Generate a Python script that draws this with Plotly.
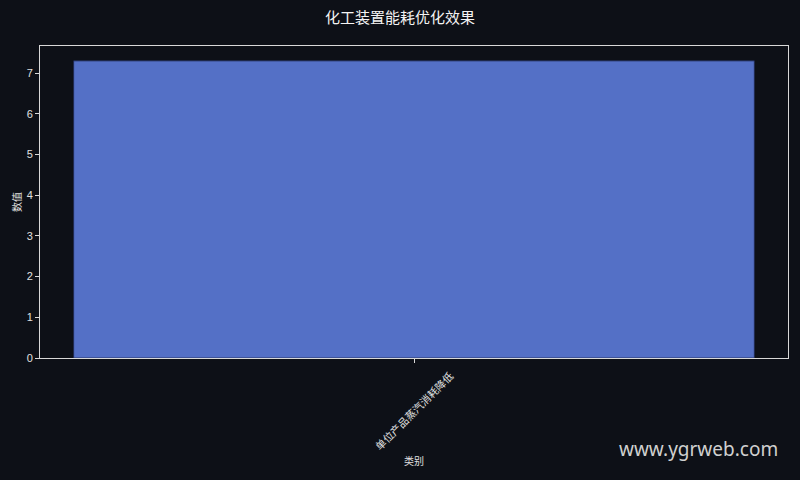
import plotly.graph_objects as go

# data
categories = ["单位产品蒸汽消耗降低"]
values = [7.3]

title_text = "化工装置能耗优化效果"
x_title = "类别"
y_title = "数值"
watermark = "www.ygrweb.com"

bg = "#0d1017"
font_cjk = "Noto Sans CJK SC"
txt = "#e0e0e0"

fig = go.Figure(
    go.Bar(
        x=categories,
        y=values,
        width=0.91,
        marker=dict(color="#5470c6", line=dict(color="rgba(30,40,80,0.8)", width=1)),
    )
)

axis_common = dict(
    showgrid=False,
    zeroline=False,
    showline=True,
    mirror=True,
    linecolor="#d8d8d8",
    linewidth=1,
    ticks="outside",
    ticklen=4,
    tickcolor="#d8d8d8",
    automargin=False,
)

# category labels drawn centred under the tick, rotated like the original
cat_labels = [
    dict(text=c, x=c, xref="x", yref="paper", y=-0.167, textangle=-45,
         xanchor="center", yanchor="middle", showarrow=False,
         font=dict(size=10.5, color=txt, family=font_cjk))
    for c in categories
]

fig.update_layout(
    width=800,
    height=480,
    paper_bgcolor=bg,
    plot_bgcolor=bg,
    margin=dict(l=40, r=12, t=46, b=122),
    title=dict(text=title_text, x=0.5, xanchor="center", y=0.962, yanchor="middle",
               font=dict(size=15, color="#f4f4f4", family=font_cjk)),
    showlegend=False,
    xaxis=dict(axis_common, showticklabels=False),
    yaxis=dict(axis_common, range=[0, max(values) * 1.05], dtick=1,
               tickfont=dict(size=11, color=txt, family="Liberation Sans")),
    annotations=cat_labels + [
        dict(text=x_title, xref="paper", yref="paper", x=0.5, y=-0.33,
             xanchor="center", yanchor="middle", showarrow=False,
             font=dict(size=10, color=txt, family=font_cjk)),
        dict(text=y_title, xref="paper", yref="paper", x=-0.032, y=0.5, textangle=-90,
             xanchor="center", yanchor="middle", showarrow=False,
             font=dict(size=10, color=txt, family=font_cjk)),
        dict(text=watermark, xref="paper", yref="paper", x=0.9893, y=-0.2917,
             xanchor="right", yanchor="middle", showarrow=False,
             font=dict(size=19, color="#d0d0d0", family="Noto Sans")),
    ],
)

fig.write_html("out.html", config={"displayModeBar": False},
               post_script="document.body.style.margin='0';document.body.style.background='#0d1017';")
